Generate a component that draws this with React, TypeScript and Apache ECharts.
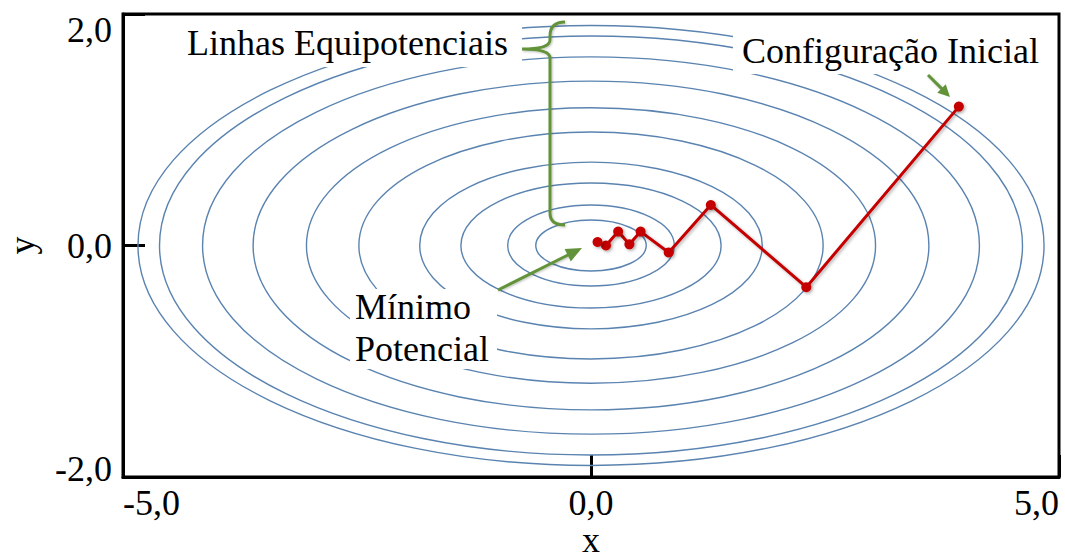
import React, { useEffect, useRef } from "react";
import * as echarts from "echarts";

// Equipotential contour ellipses (semi-axes in data units, centred on the origin)
const contourRx = [4.84, 4.61, 4.15, 3.61, 3.04, 2.48, 1.83, 1.39, 0.89, 0.59];
const contourRy = [1.9, 1.81, 1.63, 1.42, 1.19, 0.98, 0.72, 0.54, 0.35, 0.22];

// Minimisation path, from the initial configuration to the minimum
const pathX = [3.93, 2.3, 1.28, 0.83, 0.53, 0.41, 0.29, 0.16, 0.07];
const pathY = [1.2, -0.36, 0.35, -0.06, 0.12, 0.01, 0.12, 0.0, 0.03];

const xTickValues = [-5, 0, 5];
const yTickValues = [-2, 0, 2];

const xAxisTitle = "x";
const yAxisTitle = "y";
const labelLinhas = "Linhas Equipotenciais";
const labelConfig = "Configuração Inicial";
const labelMinimo = "Mínimo";
const labelPotencial = "Potencial";

const SERIF = '"Liberation Serif", "Times New Roman", serif';
const GREEN = "#62933a";
const RED = "#c40000";
const BLUE = "#5a83b0";

function fmt(v: number) {
  return v.toFixed(1).replace(".", ",");
}

function arrow(x1: number, y1: number, x2: number, y2: number, head: number, half: number) {
  const dx = x2 - x1;
  const dy = y2 - y1;
  const len = Math.sqrt(dx * dx + dy * dy);
  const ux = dx / len;
  const uy = dy / len;
  const bx = x2 - ux * head;
  const by = y2 - uy * head;
  const nx = -uy;
  const ny = ux;
  return [
    {
      type: "line",
      z: 120,
      shape: { x1, y1, x2: bx + ux * 2, y2: by + uy * 2 },
      style: {
        stroke: GREEN,
        lineWidth: 3,
        shadowColor: "rgba(0,0,0,0.25)",
        shadowBlur: 2,
        shadowOffsetX: 1,
        shadowOffsetY: 1,
      },
    },
    {
      type: "polygon",
      z: 121,
      shape: {
        points: [
          [x2, y2],
          [bx + nx * half, by + ny * half],
          [bx - nx * half, by - ny * half],
        ],
      },
      style: { fill: GREEN },
    },
  ];
}

const bracePath =
  "M565,22 Q550,22 550,36 L550,40 Q550,49 522,49 M522,49 Q550,49 550,58 L550,213 Q550,225 565,225";

let braceRegistered = false;

export default function App() {
  const ref = useRef<HTMLDivElement>(null);

  useEffect(() => {
    if (!ref.current) return;
    if (!braceRegistered) {
      echarts.graphic.registerShape("brace", echarts.graphic.extendPath(bracePath, {}) as any);
      braceRegistered = true;
    }
    const chart = echarts.init(ref.current, null, { renderer: "svg" });

    const contourData = contourRx.map((rx, i) => [rx, contourRy[i]]);
    const pathData = pathX.map((x, i) => [x, pathY[i]]);
    const yMin = yTickValues[0];
    const yMax = yTickValues[yTickValues.length - 1];

    const option: any = {
      animation: false,
      backgroundColor: "#ffffff",
      grid: {
        left: 123,
        right: 6,
        top: 14,
        bottom: 80,
        containLabel: false,
        outerBoundsMode: "none",
        show: true,
        borderColor: "#000",
        borderWidth: 3,
        backgroundColor: "transparent",
      },
      xAxis: {
        type: "value",
        min: -5,
        max: 5,
        interval: 5,
        axisLine: { show: true, onZero: false, lineStyle: { color: "#000", width: 3 } },
        axisTick: { show: true, inside: true, length: 22, lineStyle: { color: "#000", width: 3 } },
        splitLine: { show: false },
        axisLabel: {
          fontFamily: SERIF,
          fontSize: 36,
          color: "#000",
          margin: 8,
          lineHeight: 36,
          alignMinLabel: "left",
          alignMaxLabel: "right",
          customValues: xTickValues,
          formatter: (v: number) => fmt(v),
        },
      },
      yAxis: {
        type: "value",
        min: -2,
        max: 2,
        interval: 2,
        name: yAxisTitle,
        nameLocation: "middle",
        nameGap: 83,
        nameRotate: 90,
        nameTextStyle: { fontFamily: SERIF, fontSize: 36, color: "#000" },
        axisLine: { show: true, onZero: false, lineStyle: { color: "#000", width: 3 } },
        axisTick: { show: true, inside: true, length: 22, lineStyle: { color: "#000", width: 3 } },
        splitLine: { show: false },
        axisLabel: {
          fontFamily: SERIF,
          fontSize: 36,
          color: "#000",
          margin: 11,
          verticalAlignMinLabel: "bottom",
          verticalAlignMaxLabel: "top",
          customValues: yTickValues,
          formatter: (v: number) => {
            if (v === yMin) return `{lo|${fmt(v)}}`;
            if (v === yMax) return `{hi|${fmt(v)}}`;
            return fmt(v);
          },
          rich: {
            lo: { fontFamily: SERIF, fontSize: 36, color: "#000", lineHeight: 16 },
            hi: { fontFamily: SERIF, fontSize: 36, color: "#000", lineHeight: 32 },
          },
        },
      },
      series: [
        {
          type: "custom",
          z: 2,
          silent: true,
          data: contourData,
          renderItem: (params: any, api: any) => {
            const rx = api.value(0);
            const ry = api.value(1);
            const c = api.coord([0, 0]);
            const s = api.size([rx, ry]);
            return {
              type: "ellipse",
              shape: { cx: c[0], cy: c[1], rx: s[0], ry: s[1] },
              style: { fill: "none", stroke: BLUE, lineWidth: 1.4 },
            };
          },
        },
        {
          type: "line",
          z: 5,
          data: pathData,
          symbol: "circle",
          symbolSize: 10,
          showSymbol: true,
          lineStyle: {
            color: RED,
            width: 3,
            shadowColor: "rgba(0,0,0,0.3)",
            shadowBlur: 3,
            shadowOffsetX: 1.5,
            shadowOffsetY: 1.5,
          },
          itemStyle: {
            color: RED,
            shadowColor: "rgba(0,0,0,0.3)",
            shadowBlur: 3,
            shadowOffsetX: 1.5,
            shadowOffsetY: 1.5,
          },
        },
      ],
      graphic: [
        { type: "rect", z: 100, shape: { x: 185, y: 17, width: 337, height: 50 }, style: { fill: "#fff" } },
        { type: "rect", z: 100, shape: { x: 733, y: 17, width: 312, height: 57 }, style: { fill: "#fff" } },
        { type: "rect", z: 100, shape: { x: 350, y: 289, width: 147, height: 80 }, style: { fill: "#fff" } },
        {
          type: "text",
          z: 110,
          x: 591,
          y: 540,
          style: {
            text: xAxisTitle,
            font: `36px ${SERIF}`,
            fill: "#000",
            align: "center",
            verticalAlign: "middle",
            lineHeight: 18,
          },
        },
        {
          type: "text",
          z: 110,
          x: 187,
          y: 43,
          style: { text: labelLinhas, font: `36px ${SERIF}`, fill: "#000", align: "left", verticalAlign: "middle" },
        },
        {
          type: "text",
          z: 110,
          x: 742,
          y: 51,
          style: { text: labelConfig, font: `36px ${SERIF}`, fill: "#000", align: "left", verticalAlign: "middle" },
        },
        {
          type: "text",
          z: 110,
          x: 355,
          y: 307,
          style: { text: labelMinimo, font: `36px ${SERIF}`, fill: "#000", align: "left", verticalAlign: "middle" },
        },
        {
          type: "text",
          z: 110,
          x: 355,
          y: 349,
          style: { text: labelPotencial, font: `36px ${SERIF}`, fill: "#000", align: "left", verticalAlign: "middle" },
        },
        {
          type: "brace",
          z: 120,
          x: 0,
          y: 0,
          style: {
            fill: "none",
            stroke: GREEN,
            lineWidth: 3,
            shadowColor: "rgba(0,0,0,0.25)",
            shadowBlur: 2,
            shadowOffsetX: 1,
            shadowOffsetY: 1,
          },
        },
        ...arrow(498, 290, 582, 248, 16, 7),
        ...arrow(928, 75, 950, 97, 12, 6),
      ],
    };

    chart.setOption(option);
    return () => chart.dispose();
  }, []);

  return (
    <div
      ref={ref}
      style={{ position: "absolute", left: 0, top: 0, width: 1065, height: 557, background: "#fff" }}
    />
  );
}
